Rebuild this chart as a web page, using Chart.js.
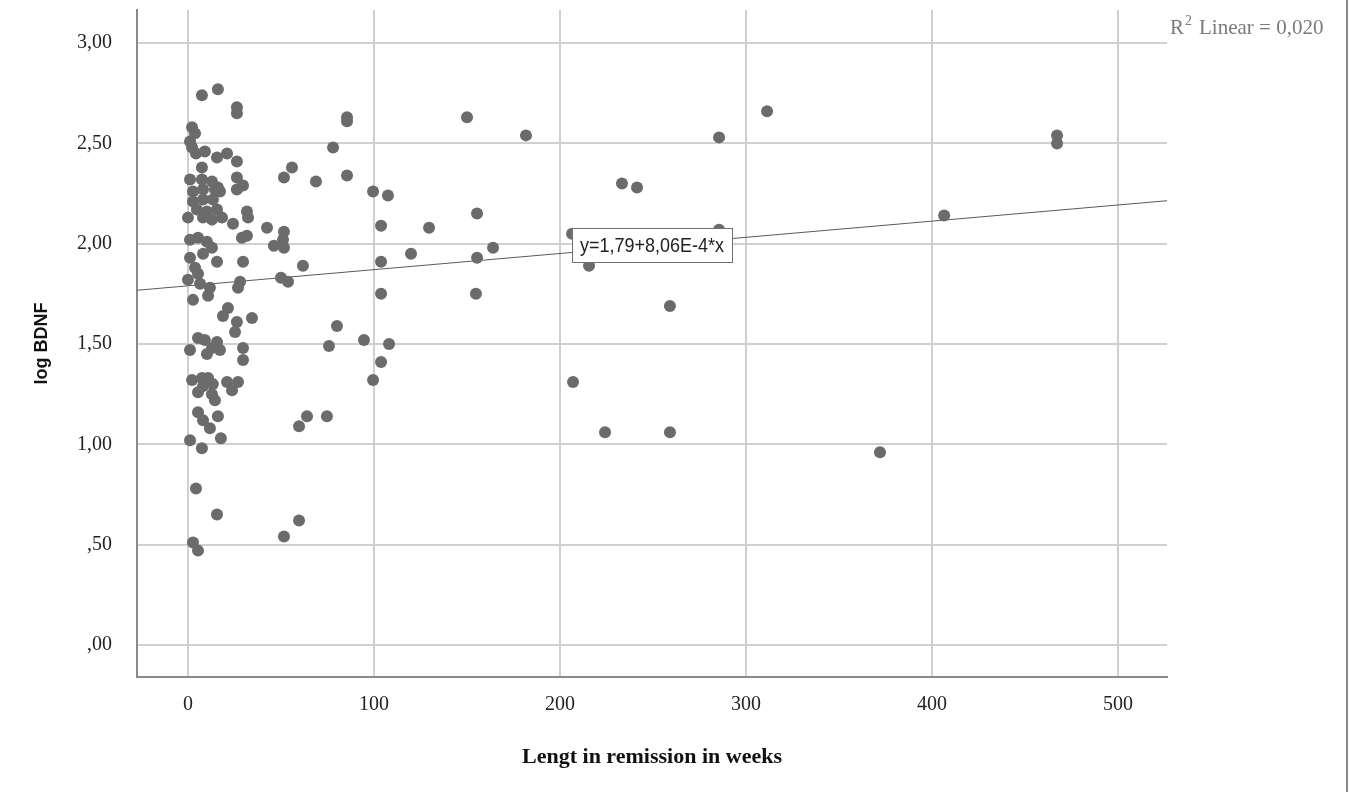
<!DOCTYPE html>
<html lang="en">
  <head>
    <meta charset="UTF-8" />
    <title>log BDNF vs length in remission</title>
    <script src="https://cdn.jsdelivr.net/npm/chart.js"></script>
    <style>
      html, body {
        margin: 0;
        padding: 0;
        background: #ffffff;
      }
      .wrap {
        width: 1350px;
        height: 792px;
      }
    </style>
  </head>
  <body>
    <div class="wrap">
      <canvas id="scatter" width="1350" height="792"></canvas>
    </div>

    <script>
      // Length in remission (weeks) for each subject
      var weeks = [
        7.5, 16.1, 26.3, 26.3, 2.2, 3.8, 1.1, 2.2, 4.3, 9.1, 15.6, 21.0, 26.3, 7.5,
        1.1, 7.5, 12.9, 16.1, 26.3, 29.6, 2.7, 8.1, 14.5, 17.2, 26.3, 2.7, 8.1, 13.4,
        4.8, 10.2, 15.6, 8.1, 12.9, 18.3, 0, 24.2, 31.7, 32.3, 42.5, 31.7, 29.0, 1.1,
        5.4, 10.2, 12.9, 8.1, 15.6, 1.1, 29.6, 3.8, 5.4, 0, 6.5, 11.8, 28.0, 26.9,
        2.7, 10.8, 21.5, 18.8, 26.3, 25.3, 34.4, 1.1, 5.4, 9.1, 15.6, 17.2, 10.2, 12.9,
        29.6, 29.6, 2.2, 7.5, 10.8, 8.1, 13.4, 21.0, 26.9, 23.7, 5.4, 12.9, 14.5, 5.4,
        8.1, 16.1, 11.8, 1.1, 7.5, 17.7, 4.3, 15.6, 2.7, 5.4,
        85.5, 85.5, 78.0, 55.9, 51.6, 68.8, 85.5, 99.5, 107.5, 51.6, 51.1, 46.2, 51.6,
        61.8, 50.0, 53.8, 103.8, 103.8, 103.8, 80.1, 75.8, 94.6, 108.1, 103.8, 99.5,
        64.0, 59.7, 74.7, 59.7, 51.6,
        150.0, 181.7, 233.3, 241.4, 285.5, 311.3, 129.6, 155.4, 119.9, 155.4, 164.0,
        154.8, 215.6, 206.5, 285.5, 207.0, 224.2, 259.1, 259.1, 372.0, 406.5, 467.2, 467.2
      ];

      // log BDNF for each subject, same order as weeks
      var logBdnf = [
        2.74, 2.77, 2.68, 2.65, 2.58, 2.55, 2.51, 2.48, 2.45, 2.46, 2.43, 2.45, 2.41, 2.38,
        2.32, 2.32, 2.31, 2.28, 2.33, 2.29, 2.26, 2.27, 2.27, 2.26, 2.27, 2.21, 2.22, 2.22,
        2.17, 2.16, 2.17, 2.13, 2.12, 2.13, 2.13, 2.10, 2.16, 2.13, 2.08, 2.04, 2.03, 2.02,
        2.03, 2.01, 1.98, 1.95, 1.91, 1.93, 1.91, 1.88, 1.85, 1.82, 1.80, 1.78, 1.81, 1.78,
        1.72, 1.74, 1.68, 1.64, 1.61, 1.56, 1.63, 1.47, 1.53, 1.52, 1.51, 1.47, 1.45, 1.48,
        1.48, 1.42, 1.32, 1.33, 1.33, 1.29, 1.30, 1.31, 1.31, 1.27, 1.26, 1.25, 1.22, 1.16,
        1.12, 1.14, 1.08, 1.02, 0.98, 1.03, 0.78, 0.65, 0.51, 0.47,
        2.63, 2.61, 2.48, 2.38, 2.33, 2.31, 2.34, 2.26, 2.24, 2.06, 2.02, 1.99, 1.98,
        1.89, 1.83, 1.81, 2.09, 1.91, 1.75, 1.59, 1.49, 1.52, 1.50, 1.41, 1.32,
        1.14, 1.09, 1.14, 0.62, 0.54,
        2.63, 2.54, 2.30, 2.28, 2.53, 2.66, 2.08, 2.15, 1.95, 1.93, 1.98,
        1.75, 1.89, 2.05, 2.07, 1.31, 1.06, 1.06, 1.69, 0.96, 2.14, 2.54, 2.50
      ];

      var xTicks = [0, 100, 200, 300, 400, 500];
      var yTicks = [0, 0.5, 1, 1.5, 2, 2.5, 3];
      var xRange = [-27.4, 526.3];
      var yRange = [-0.16, 3.165];

      // fit line y = intercept + slope * x
      var intercept = 1.79;
      var slope = 8.06e-4;
      var fitLabel = "y=1,79+8,06E-4*x";
      var r2Label = "0,020";

      var points = weeks.map(function (w, i) {
        return { x: w, y: logBdnf[i] };
      });
      var fitLine = xRange.map(function (x) {
        return { x: x, y: intercept + slope * x };
      });

      // SPSS style: comma decimal, no leading zero below 1
      function fmtY(v) {
        var s = v.toFixed(2).replace(".", ",");
        if (s.charAt(0) === "0") s = s.substring(1);
        return s;
      }

      var serif = "'Liberation Serif', 'Times New Roman', serif";
      var sans = "'Liberation Sans', Arial, sans-serif";

      var annotations = {
        id: "annotations",
        afterDatasetsDraw: function (chart) {
          var ctx = chart.ctx;
          var xs = chart.scales.x;
          var ys = chart.scales.y;
          var area = chart.chartArea;

          // equation box at the middle of the fit line
          var midX = (xRange[0] + xRange[1]) / 2;
          var cx = xs.getPixelForValue(midX);
          var cy = ys.getPixelForValue(intercept + slope * midX);
          ctx.save();
          ctx.font = "18px " + sans;
          var w = ctx.measureText(fitLabel).width + 16;
          var h = 34;
          ctx.fillStyle = "#ffffff";
          ctx.fillRect(cx - w / 2, cy - h / 2, w, h);
          ctx.strokeStyle = "#707070";
          ctx.lineWidth = 1;
          ctx.strokeRect(Math.round(cx - w / 2) + 0.5, Math.round(cy - h / 2) + 0.5, Math.round(w), h);
          ctx.fillStyle = "#222222";
          ctx.textAlign = "center";
          ctx.textBaseline = "middle";
          ctx.save();
          ctx.translate(cx, cy + 1);
          ctx.scale(1, 1.15);
          ctx.fillText(fitLabel, 0, 0);
          ctx.restore();

          // R squared note, top right
          var tx = area.right + 3;
          var ty = 34;
          ctx.fillStyle = "#7a7a7a";
          ctx.textAlign = "left";
          ctx.textBaseline = "alphabetic";
          ctx.font = "21px " + serif;
          ctx.fillText("R", tx, ty);
          var rw = ctx.measureText("R").width;
          ctx.font = "14px " + serif;
          ctx.fillText("2", tx + rw + 1, ty - 9);
          ctx.font = "21px " + serif;
          ctx.fillText("Linear = " + r2Label, tx + rw + 15, ty);

          // frame edge on the right
          ctx.strokeStyle = "#8a8a8a";
          ctx.lineWidth = 2;
          ctx.beginPath();
          ctx.moveTo(1347, 0);
          ctx.lineTo(1347, chart.height);
          ctx.stroke();
          ctx.restore();
        }
      };

      var ctx = document.getElementById("scatter").getContext("2d");
      new Chart(ctx, {
        type: "scatter",
        data: {
          datasets: [
            {
              label: "fit",
              type: "line",
              data: fitLine,
              borderColor: "#5a5a5a",
              borderWidth: 1,
              pointRadius: 0,
              fill: false,
              order: 2
            },
            {
              label: "subjects",
              data: points,
              backgroundColor: "#6b6b6b",
              borderWidth: 0,
              pointRadius: 6,
              order: 1
            }
          ]
        },
        options: {
          responsive: false,
          animation: false,
          layout: {
            padding: { top: 10, right: 183, left: 0, bottom: 0 }
          },
          plugins: {
            legend: { display: false },
            tooltip: { enabled: false }
          },
          scales: {
            x: {
              type: "linear",
              min: xRange[0],
              max: xRange[1],
              afterBuildTicks: function (scale) {
                scale.ticks = xTicks.map(function (v) { return { value: v }; });
              },
              afterFit: function (scale) {
                scale.height = 115;
                scale.paddingLeft = 0;
                scale.paddingRight = 0;
              },
              grid: {
                color: "#d0d0d0",
                lineWidth: 2,
                drawTicks: false
              },
              border: { color: "#8a8a8a", width: 2 },
              ticks: {
                padding: 16,
                color: "#222222",
                font: { family: serif, size: 20 },
                maxRotation: 0,
                callback: function (v) { return String(v); }
              },
              title: {
                display: true,
                text: "Lengt in remission in weeks",
                color: "#111111",
                font: { family: serif, size: 22, weight: "bold" },
                padding: { top: 0, bottom: 21 }
              }
            },
            y: {
              type: "linear",
              min: yRange[0],
              max: yRange[1],
              afterBuildTicks: function (scale) {
                scale.ticks = yTicks.map(function (v) { return { value: v }; });
              },
              afterFit: function (scale) {
                scale.width = 137;
                scale.paddingTop = 0;
                scale.paddingBottom = 0;
              },
              grid: {
                color: "#d0d0d0",
                lineWidth: 2,
                drawTicks: false
              },
              border: { color: "#8a8a8a", width: 2 },
              ticks: {
                padding: 25,
                color: "#222222",
                font: { family: serif, size: 20 },
                callback: function (v) { return fmtY(v); }
              },
              title: {
                display: true,
                text: "log BDNF",
                color: "#111111",
                font: { family: sans, size: 18, weight: "bold" },
                padding: { top: 31, bottom: 0 }
              }
            }
          }
        },
        plugins: [annotations]
      });
    </script>
  </body>
</html>
